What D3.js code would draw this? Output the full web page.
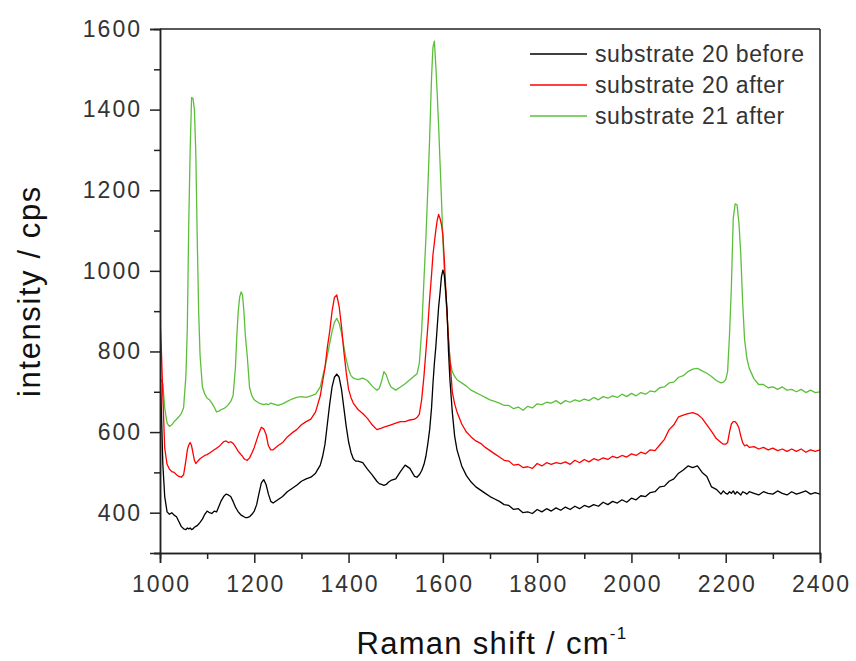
<!DOCTYPE html>
<html>
<head>
<meta charset="utf-8">
<script src="https://cdn.jsdelivr.net/npm/d3@7"></script>
<style>
  html, body { margin: 0; padding: 0; background: #fff; }
  svg { display: block; font-family: "Liberation Sans", Arial, sans-serif; }
</style>
</head>
<body>
<svg id="chart" width="856" height="661"></svg>
<script>
// Raman shift (cm^-1) sampling positions
const shift = [
  1000,1003,1006,1010,1015,1020,1025,1030,1035,1040,
  1045,1050,1055,1058,1061,1064,1067,1070,1073,1076,
  1079,1082,1085,1090,1095,1100,1105,1110,1115,1120,
  1125,1130,1135,1140,1145,1150,1155,1160,1163,1166,
  1169,1172,1175,1178,1181,1185,1190,1195,1200,1205,
  1210,1215,1220,1225,1230,1235,1240,1250,1260,1270,
  1280,1290,1300,1310,1320,1330,1340,1345,1350,1355,
  1360,1365,1370,1375,1380,1385,1390,1395,1400,1405,
  1410,1415,1420,1430,1440,1450,1460,1465,1470,1475,
  1480,1485,1490,1500,1510,1520,1530,1540,1545,1550,
  1555,1560,1564,1568,1572,1576,1579,1582,1585,1588,
  1591,1594,1597,1600,1603,1606,1609,1612,1615,1620,
  1625,1630,1640,1650,1660,1670,1680,1690,1700,1710,
  1720,1730,1740,1750,1760,1770,1780,1790,1800,1810,
  1820,1830,1840,1850,1860,1870,1880,1890,1900,1910,
  1920,1930,1940,1950,1960,1970,1980,1990,2000,2010,
  2020,2030,2040,2050,2060,2070,2080,2090,2100,2110,
  2120,2130,2140,2150,2160,2170,2180,2190,2195,2200,
  2204,2208,2212,2216,2220,2224,2228,2232,2236,2240,
  2245,2250,2260,2270,2280,2290,2300,2310,2320,2330,
  2340,2350,2360,2370,2380,2390,2400
];

// intensity (cps): substrate 20 before
const substrate20Before = [
  760,650,520,440,402,396,400,394,390,378,
  366,360,358,362,360,362,358,360,364,366,
  368,372,376,384,396,404,400,398,404,402,
  416,430,440,446,444,440,428,414,408,402,
  398,394,392,390,388,388,390,396,404,420,
  448,474,482,470,446,428,424,432,440,452,
  460,468,478,484,488,498,518,540,570,620,
  670,712,736,744,736,706,660,614,576,550,
  534,528,528,524,508,494,478,472,470,468,
  470,476,480,484,502,518,510,490,488,494,
  504,520,540,570,606,660,720,770,810,860,
  910,945,985,1002,990,950,900,800,730,650,
  590,556,516,492,476,464,456,448,440,434,
  428,420,418,408,410,400,402,398,408,402,
  410,404,412,406,414,408,416,410,418,414,
  420,416,426,420,428,424,432,426,436,432,
  442,440,450,452,464,466,478,484,498,506,
  516,512,516,500,490,464,458,446,454,448,
  446,452,448,454,446,452,448,444,452,450,
  446,452,448,444,452,448,446,454,448,444,
  452,446,450,454,446,450,446
];

// intensity (cps): substrate 20 after
const substrate20After = [
  885,800,690,560,520,508,502,500,494,490,
  488,494,530,556,568,574,566,548,530,522,
  526,530,534,538,542,544,548,552,556,560,
  564,570,576,578,574,576,572,564,558,552,
  548,544,540,534,532,530,536,548,562,580,
  598,612,608,594,566,556,556,566,574,588,
  598,606,618,626,632,650,690,726,760,810,
  850,900,934,940,912,862,800,748,706,686,
  672,664,656,646,634,618,606,608,610,612,
  614,616,618,622,626,626,630,632,636,644,
  680,740,800,860,930,990,1040,1070,1100,1125,
  1140,1130,1115,1090,1030,960,890,830,780,700,
  670,650,620,600,588,578,572,562,554,546,
  538,530,528,518,520,512,514,510,522,516,
  524,520,524,522,526,520,530,524,532,526,
  534,530,536,532,540,536,542,538,546,542,
  550,546,556,554,568,582,606,618,638,642,
  646,648,644,634,618,602,584,574,570,570,
  574,600,620,626,626,620,610,590,574,566,
  568,562,564,558,562,556,560,554,558,552,
  558,552,558,550,556,552,556
];

// intensity (cps): substrate 21 after
const substrate21After = [
  735,728,720,660,622,614,618,626,632,638,
  646,660,740,860,1120,1300,1430,1428,1400,1290,
  1080,900,790,712,694,684,680,672,662,650,
  652,656,658,662,668,676,690,760,840,900,
  935,948,940,900,840,790,710,690,680,676,
  672,670,668,670,668,672,670,666,670,676,
  682,686,688,686,690,694,712,738,762,790,
  820,850,872,882,870,846,812,780,756,740,
  734,732,730,734,728,714,704,708,726,750,
  742,724,712,704,712,720,730,740,744,770,
  850,980,1080,1200,1330,1480,1555,1570,1510,1440,
  1360,1270,1180,1080,1000,940,890,830,780,750,
  738,730,722,714,704,698,692,686,680,676,
  672,666,666,658,662,654,664,660,670,668,
  674,672,678,670,678,674,680,676,682,678,
  686,680,688,684,690,686,694,688,696,690,
  698,694,702,700,710,712,722,724,736,740,
  750,756,758,752,746,738,728,722,724,730,
  750,840,960,1130,1166,1164,1120,1040,920,830,
  782,758,732,718,718,710,712,706,712,704,
  706,700,706,698,704,698,700
];

const seriesNames = ["substrate 20 before", "substrate 20 after", "substrate 21 after"];
const seriesColors = ["#000000", "#ff0000", "#5cbf3c"];
const seriesValues = [substrate20Before, substrate20After, substrate21After];

const xMajorTicks = [1000, 1200, 1400, 1600, 1800, 2000, 2200, 2400];
const xMinorTicks = [1100, 1300, 1500, 1700, 1900, 2100, 2300];
const yMajorTicks = [400, 600, 800, 1000, 1200, 1400, 1600];
const yMinorTicks = [300, 500, 700, 900, 1100, 1300, 1500];

const svg = d3.select("#chart");
const plotLeft = 160, plotRight = 820, plotTop = 29, plotBottom = 553;

const x = d3.scaleLinear().domain([1000, 2400]).range([plotLeft, plotRight]);
const y = d3.scaleLinear().domain([300, 1600]).range([plotBottom, plotTop]);

svg.append("defs").append("clipPath").attr("id", "plotClip")
  .append("rect").attr("x", plotLeft).attr("y", plotTop)
  .attr("width", plotRight - plotLeft).attr("height", plotBottom - plotTop);

// spectra
const line = d3.line()
  .x((d, i) => x(shift[i]))
  .y(d => y(d));

const plot = svg.append("g").attr("clip-path", "url(#plotClip)");
// green first, black last so black sits on top
[2, 1, 0].forEach(k => {
  plot.append("path")
    .datum(seriesValues[k])
    .attr("fill", "none")
    .attr("stroke", seriesColors[k])
    .attr("stroke-width", 1.3)
    .attr("stroke-linejoin", "round")
    .attr("d", line);
});

// frame lines (top and right)
const axisColor = "#222";
svg.append("line").attr("x1", plotLeft).attr("x2", plotRight).attr("y1", plotTop).attr("y2", plotTop)
  .attr("stroke", axisColor).attr("stroke-width", 1.5);
svg.append("line").attr("x1", plotRight).attr("x2", plotRight).attr("y1", plotTop).attr("y2", plotBottom)
  .attr("stroke", axisColor).attr("stroke-width", 1.5);

function styleAxis(g) {
  g.select(".domain").attr("stroke", axisColor).attr("stroke-width", 1.5);
  g.selectAll(".tick line").attr("stroke", axisColor).attr("stroke-width", 1.5);
  g.selectAll(".tick text")
    .attr("fill", "#333")
    .style("font-size", "23px")
    .style("letter-spacing", "2px");
}

// x axis
svg.append("g").attr("transform", `translate(0,${plotBottom})`)
  .call(d3.axisBottom(x).tickValues(xMinorTicks).tickSize(6).tickFormat(""))
  .call(styleAxis);
svg.append("g").attr("transform", `translate(0,${plotBottom})`)
  .call(d3.axisBottom(x).tickValues(xMajorTicks).tickSize(10).tickPadding(13).tickFormat(d3.format("d")))
  .call(styleAxis)
  .selectAll(".tick text").attr("dx", "1px");

// y axis
svg.append("g").attr("transform", `translate(${plotLeft},0)`)
  .call(d3.axisLeft(y).tickValues(yMinorTicks).tickSize(6).tickFormat(""))
  .call(styleAxis);
svg.append("g").attr("transform", `translate(${plotLeft},0)`)
  .call(d3.axisLeft(y).tickValues(yMajorTicks).tickSize(10).tickPadding(8).tickFormat(d3.format("d")))
  .call(styleAxis);

// axis titles
const xTitle = svg.append("text")
  .attr("x", 492).attr("y", 654)
  .attr("text-anchor", "middle")
  .attr("fill", "#111")
  .style("font-size", "31px")
  .style("letter-spacing", "1.3px");
xTitle.append("tspan").text("Raman shift / cm");
xTitle.append("tspan").attr("dy", -15).style("font-size", "17px").text("-1");

svg.append("text")
  .attr("transform", "translate(40,291) rotate(-90)")
  .attr("text-anchor", "middle")
  .attr("fill", "#111")
  .style("font-size", "31px")
  .style("letter-spacing", "1.6px")
  .text("intensity / cps");

// legend
const legend = svg.append("g");
seriesNames.forEach((name, i) => {
  const ly = 54 + i * 31;
  legend.append("line")
    .attr("x1", 530).attr("x2", 587).attr("y1", ly).attr("y2", ly)
    .attr("stroke", seriesColors[i]).attr("stroke-width", 1.3);
  legend.append("text")
    .attr("x", 595).attr("y", ly).attr("dy", "0.35em")
    .attr("fill", "#333")
    .style("font-size", "23px")
    .style("letter-spacing", "0.6px")
    .text(name);
});
</script>
</body>
</html>
